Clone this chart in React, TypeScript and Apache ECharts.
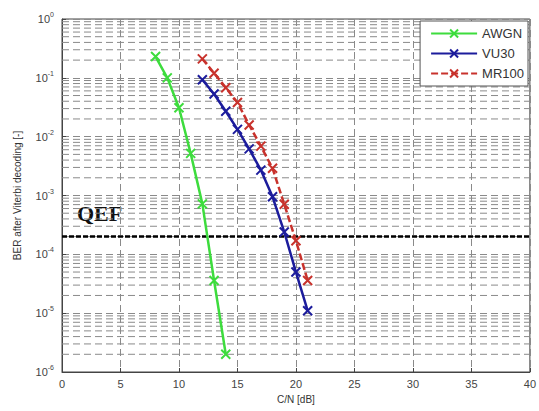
import React, { useEffect, useRef } from "react";
import * as echarts from "echarts";

const xCN_AWGN = [8, 9, 10, 11, 12, 13, 14];
const berAWGN = [0.23, 0.1, 0.031, 0.0052, 7.2e-4, 3.6e-5, 2e-6];

const xCN_VU30 = [12, 13, 14, 15, 16, 17, 18, 19, 20, 21];
const berVU30 = [0.093, 0.053, 0.027, 0.0133, 0.0062, 0.0027, 9.5e-4, 2.4e-4, 5e-5, 1.1e-5];

const xCN_MR100 = [12, 13, 14, 15, 16, 17, 18, 19, 20, 21];
const berMR100 = [0.21, 0.12, 0.068, 0.038, 0.0158, 0.0069, 0.0029, 7.1e-4, 1.7e-4, 3.6e-5];

const qefLevel = 2e-4;
const decades = [-6, -5, -4, -3, -2, -1];
const minorMultipliers = [2, 3, 4, 5, 6, 7, 8, 9];
const xRange = [0, 40];

const App: React.FC = () => {
  const ref = useRef<HTMLDivElement>(null);
  useEffect(() => {
    if (!ref.current) return;
    const chart = echarts.init(ref.current, undefined, { renderer: "svg" });
    const gridLineStyle = { color: "#8a8a8a", type: [7, 4] as any, width: 1 };
    const minorLevels: number[] = [];
    decades.forEach((d) => {
      minorMultipliers.forEach((m) => minorLevels.push(m * Math.pow(10, d)));
    });
    const hLine = (v: number, name: string, style: any, z: number) => ({
      name,
      type: "line",
      data: xRange.map((x) => [x, v]),
      symbol: "none",
      silent: true,
      z,
      lineStyle: style,
    });
    const zip = (xs: number[], ys: number[]) => xs.map((x, i) => [x, ys[i]]);
    const xSym = "path://M0,0L10,10M10,0L0,10";
    const mkSeries = (name: string, xs: number[], ys: number[], color: string, dashed: boolean) => ({
      name,
      type: "line",
      data: zip(xs, ys),
      symbol: xSym,
      symbolSize: 9,
      z: 5,
      lineStyle: { color, width: 2.5, type: dashed ? [7, 3] : "solid" },
      itemStyle: { color, borderColor: color, borderWidth: 2 },
    });
    chart.setOption({
      animation: false,
      backgroundColor: "#ffffff",
      grid: { left: 62, right: 7, top: 19, bottom: 39, show: true, borderColor: "#444", borderWidth: 1 },
      legend: {
        right: 11,
        top: 21,
        orient: "vertical",
        backgroundColor: "#ffffff",
        borderColor: "#555",
        borderWidth: 1,
        padding: [6, 4, 6, 10],
        itemGap: 7,
        itemWidth: 46,
        itemHeight: 10,
        textStyle: { fontSize: 13, color: "#333", fontFamily: "Liberation Sans, Arial" },
        data: ["AWGN", "VU30", "MR100"],
      },
      xAxis: {
        type: "value",
        min: 0,
        max: 40,
        interval: 5,
        name: "C/N [dB]",
        nameLocation: "middle",
        nameGap: 22,
        nameTextStyle: { fontSize: 10, color: "#333", fontFamily: "Liberation Sans, Arial" },
        axisLine: { lineStyle: { color: "#444" } },
        axisTick: { inside: true, length: 4, lineStyle: { color: "#444" } },
        axisLabel: { fontSize: 11, color: "#444", margin: 6, fontFamily: "Liberation Sans, Arial" },
        splitLine: { show: true, lineStyle: gridLineStyle },
      },
      yAxis: {
        type: "log",
        logBase: 10,
        min: 1e-6,
        max: 1,
        name: "BER after Viterbi decoding [-]",
        nameLocation: "middle",
        nameGap: 40,
        nameTextStyle: { fontSize: 10, color: "#333", fontFamily: "Liberation Sans, Arial" },
        axisLine: { lineStyle: { color: "#444" } },
        axisTick: { inside: true, length: 4, lineStyle: { color: "#444" } },
        axisLabel: {
          fontSize: 11,
          color: "#444",
          margin: 8,
          fontFamily: "Liberation Sans, Arial",
          formatter: (v: number) => `10{e|${Math.round(Math.log10(v))}}`,
          rich: { e: { fontSize: 7, padding: [0, 0, 9, 0], color: "#444" } },
        },
        splitLine: { show: true, lineStyle: gridLineStyle },
      },
      graphic: [
        {
          type: "text",
          left: 77,
          top: 202,
          style: { text: "QEF", font: "bold 22px 'Liberation Serif', 'Times New Roman', serif", fill: "#111" },
        },
      ],
      series: [
        ...minorLevels.map((v, i) => hLine(v, "minor" + i, gridLineStyle, 1)),
        hLine(qefLevel, "QEF", { color: "#000", type: [5, 2], width: 2.5 }, 4),
        mkSeries("AWGN", xCN_AWGN, berAWGN, "#3ddc3d", false),
        mkSeries("VU30", xCN_VU30, berVU30, "#1c1c9c", false),
        mkSeries("MR100", xCN_MR100, berMR100, "#c8322c", true),
      ],
    });
    return () => chart.dispose();
  }, []);
  return <div ref={ref} style={{ position: "fixed", left: 0, top: 0, width: 539, height: 411 }} />;
};

export default App;
